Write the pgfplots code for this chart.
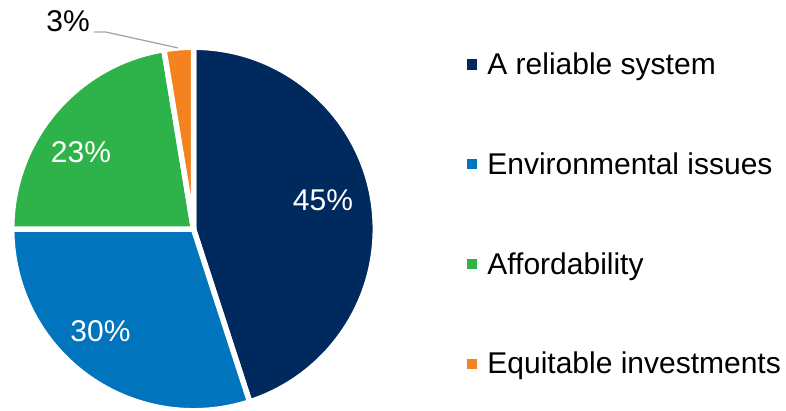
\documentclass[border=0pt]{standalone}
\usepackage{fontspec}
\setmainfont{Liberation Sans}
\usepackage{pgfplots}
\pgfplotsset{compat=1.18}
\definecolor{cnavy}{HTML}{002A5E}
\definecolor{cblue}{HTML}{0075BE}
\definecolor{cgreen}{HTML}{2EB34A}
\definecolor{corange}{HTML}{F58220}
\definecolor{cline}{HTML}{A6A6A6}
\pgfplotsset{sqlegend/.style={legend image code/.code={\fill[##1] (0pt,5pt) rectangle (10.7pt,15.3pt);}}}
\begin{document}
\begin{tikzpicture}[x=1pt,y=1pt]
\path[use as bounding box] (0,0) rectangle (786,410);
\begin{axis}[
  anchor=origin, at={(193.5pt,181pt)},
  x={(180pt,0pt)}, y={(0pt,180pt)},
  xmin=-1, xmax=1, ymin=-1, ymax=1,
  hide axis, clip=false,
  legend style={draw=none, fill=none, inner sep=0pt, row sep=70.8pt, column sep=10pt,
    font=\fontsize{30}{36}\selectfont, cells={anchor=base west},
    nodes={inner sep=0pt, text height=22pt, text depth=7pt},
    at={(1.2583,0.9908)}, anchor=north west},
]
\addlegendimage{sqlegend, fill=cnavy, draw=none}
\addlegendentry{A reliable system}
\addlegendimage{sqlegend, fill=cblue, draw=none}
\addlegendentry{Environmental issues}
\addlegendimage{sqlegend, fill=cgreen, draw=none}
\addlegendentry{Affordability}
\addlegendimage{sqlegend, fill=corange, draw=none}
\addlegendentry{Equitable investments}
\pgfplotsextra{
  \coordinate (C) at (axis cs:0,0);
  \gdef\angA{90}
  \foreach \v/\c in {45/cnavy,30/cblue,22.4/cgreen,2.6/corange}{
    \pgfmathsetmacro\angB{\angA-3.6*\v}
    \fill[\c, draw=white, line width=5.5pt, line join=round] (C) -- ++(\angA:181.8pt) arc[start angle=\angA, end angle=\angB, radius=181.8pt] -- cycle;
    \xdef\angA{\angB}
  }
  \draw[cline, line width=1.3pt] (axis cs:-0.553,1.094) -- (axis cs:-0.486,1.094) -- (axis cs:-0.086,1.006);
  \node[white, inner sep=0pt, font=\fontsize{30}{36}\selectfont] at (axis cs:0.719,0.161) {45\%};
  \node[white, inner sep=0pt, font=\fontsize{30}{36}\selectfont] at (axis cs:-0.517,-0.567) {30\%};
  \node[white, inner sep=0pt, font=\fontsize{30}{36}\selectfont] at (axis cs:-0.625,0.425) {23\%};
  \node[black, inner sep=0pt, font=\fontsize{30}{36}\selectfont] at (axis cs:-0.697,1.156) {3\%};
}
\end{axis}
\end{tikzpicture}
\end{document}
